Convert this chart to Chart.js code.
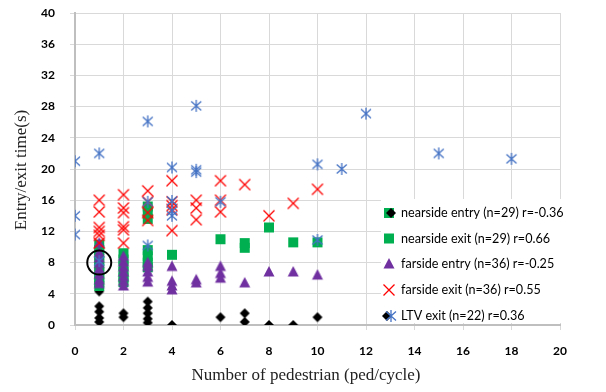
<!DOCTYPE html>
<html>
<head>
<meta charset="utf-8">
<script src="https://cdn.jsdelivr.net/npm/chart.js@4.4.0/dist/chart.umd.min.js"></script>
<style>
  html, body { margin: 0; padding: 0; background: #fff; }
</style>
</head>
<body>
<canvas id="myChart" width="606" height="392"></canvas>
<script>
// values
const nearEntryX = [1, 1, 1, 1, 1, 2, 2, 3, 3, 3, 3, 3, 4, 6, 7, 7, 8, 9, 10];
const nearEntryY = [4.3, 2.4, 1.7, 0.9, 0.4, 1.5, 1.0, 3.0, 2.2, 1.5, 0.8, 0.3, 0, 1.0, 1.5, 0.4, 0, 0, 1.0];

const nearExitX = [1, 1, 1, 1, 1, 1, 1, 1, 1, 2, 2, 2, 2, 2, 2, 3, 3, 3, 3, 3, 3, 3, 4, 6, 7, 7, 8, 9, 10];
const nearExitY = [10.3, 9.6, 8.9, 8.2, 7.5, 6.8, 6.1, 5.5, 5.0, 9.2, 8.4, 7.6, 6.8, 6.1, 5.5,
                   15.2, 14.4, 13.6, 9.6, 8.8, 8.0, 7.4, 9.0, 11.0, 10.5, 9.9, 12.5, 10.6, 10.6];

const farEntryX = [1, 1, 1, 1, 1, 1, 1, 1, 2, 2, 2, 2, 2, 2, 2, 3, 3, 3, 3, 3, 4, 4, 4, 4, 5, 5, 6, 6, 6, 7, 8, 9, 10];
const farEntryY = [10.5, 9.3, 8.6, 7.9, 7.2, 6.5, 5.8, 5.3, 8.8, 8.1, 7.4, 6.8, 6.2, 5.6, 5.0,
                   8.0, 7.5, 6.8, 6.1, 5.5, 7.5, 5.6, 5.0, 4.5, 5.8, 5.4, 7.5, 6.6, 6.0, 5.4, 6.8, 6.8, 6.4];

const farExitX = [1, 1, 1, 1, 1, 1, 2, 2, 2, 2, 2, 2, 3, 3, 3, 3, 4, 4, 4, 4, 4, 5, 5, 5, 6, 6, 6, 7, 8, 9, 10];
const farExitY = [16.0, 14.5, 12.5, 12.0, 11.5, 10.5, 16.7, 15.0, 14.4, 12.6, 12.2, 10.5,
                  17.2, 15.8, 14.4, 13.4, 18.5, 15.8, 15.3, 14.8, 12.1, 16.0, 15.0, 13.5,
                  18.5, 16.0, 14.5, 18.0, 14.0, 15.6, 17.4];

const ltvX = [0, 0, 0, 1, 1, 3, 3, 3, 4, 4, 4, 4, 5, 5, 5, 6, 10, 10, 11, 12, 15, 18];
const ltvY = [21.0, 14.0, 11.6, 22.0, 8.2, 26.1, 15.8, 10.2, 20.2, 15.9, 14.6, 14.0,
              28.1, 19.9, 19.6, 15.8, 20.6, 10.9, 20.0, 27.1, 22.0, 21.3];

const seriesNames = [
    'nearside entry (n=29) r=-0.36',
    'nearside exit (n=29) r=0.66',
    'farside entry (n=36) r=-0.25',
    'farside exit (n=36) r=0.55',
    'LTV exit (n=22) r=0.36'
];

const xTitle = 'Number of pedestrian (ped/cycle)';
const yTitle = 'Entry/exit time(s)';

function toPoints(xs, ys) {
    return xs.map((x, i) => ({ x: x, y: ys[i] }));
}

// draws one of the excel-like markers
function drawMarker(ctx, kind, x, y) {
    ctx.save();
    ctx.beginPath();
    if (kind === 'diamond') {
        ctx.fillStyle = '#000';
        ctx.moveTo(x, y - 5); ctx.lineTo(x + 5, y); ctx.lineTo(x, y + 5); ctx.lineTo(x - 5, y);
        ctx.closePath(); ctx.fill();
    } else if (kind === 'square') {
        ctx.fillStyle = '#00B050';
        ctx.fillRect(x - 5, y - 5, 10, 10);
    } else if (kind === 'triangle') {
        ctx.fillStyle = '#7030A0';
        ctx.moveTo(x, y - 6); ctx.lineTo(x + 5.5, y + 4.5); ctx.lineTo(x - 5.5, y + 4.5);
        ctx.closePath(); ctx.fill();
    } else if (kind === 'x') {
        ctx.strokeStyle = '#FF0000';
        ctx.lineWidth = 1.3;
        ctx.moveTo(x - 5.5, y - 5.5); ctx.lineTo(x + 5.5, y + 5.5);
        ctx.moveTo(x + 5.5, y - 5.5); ctx.lineTo(x - 5.5, y + 5.5);
        ctx.stroke();
    } else if (kind === 'star') {
        ctx.strokeStyle = '#4472C4';
        ctx.lineWidth = 1.3;
        ctx.moveTo(x - 5, y - 4.5); ctx.lineTo(x + 5, y + 4.5);
        ctx.moveTo(x + 5, y - 4.5); ctx.lineTo(x - 5, y + 4.5);
        ctx.moveTo(x, y - 6); ctx.lineTo(x, y + 6);
        ctx.stroke();
    }
    ctx.restore();
}

function makeIcon(kind) {
    const c = document.createElement('canvas');
    c.width = 16;
    c.height = 16;
    drawMarker(c.getContext('2d'), kind, 8, 8);
    return c;
}

// legend box inside the plot, lower right
const legendBox = {
    id: 'legendBox',
    afterDraw(chart) {
        const ctx = chart.ctx;
        ctx.save();
        ctx.fillStyle = '#fff';
        ctx.fillRect(381, 199, 225, 124);
        ctx.font = '12.6px Lato';
        ctx.fillStyle = '#000';
        ctx.textBaseline = 'middle';
        const ys = [213, 238.5, 264, 290, 316];
        drawMarker(ctx, 'square', 389, ys[0]);
        drawMarker(ctx, 'diamond', 391, ys[0]);
        drawMarker(ctx, 'square', 389, ys[1]);
        drawMarker(ctx, 'triangle', 389, ys[2]);
        drawMarker(ctx, 'x', 389, ys[3]);
        drawMarker(ctx, 'diamond', 387, ys[4]);
        drawMarker(ctx, 'star', 391, ys[4]);
        seriesNames.forEach((name, i) => {
            ctx.fillText(name, 401, ys[i]);
        });
        ctx.restore();
    }
};

// circle around the highlighted point and the axis titles
const extras = {
    id: 'extras',
    afterDatasetsDraw(chart) {
        const ctx = chart.ctx;
        const sx = chart.scales.x, sy = chart.scales.y;
        ctx.save();
        ctx.strokeStyle = '#000';
        ctx.lineWidth = 2;
        ctx.beginPath();
        ctx.arc(sx.getPixelForValue(1), sy.getPixelForValue(8.0), 12, 0, Math.PI * 2);
        ctx.stroke();
        ctx.restore();
    },
    afterDraw(chart) {
        const ctx = chart.ctx;
        ctx.save();
        ctx.fillStyle = '#222';
        ctx.font = '17px "Liberation Serif"';
        ctx.textAlign = 'center';
        ctx.textBaseline = 'middle';
        ctx.fillText(xTitle, 306, 376);
        ctx.translate(22, 170);
        ctx.rotate(-Math.PI / 2);
        ctx.fillText(yTitle, 0, 0);
        ctx.restore();
    }
};

const tickFont = { family: 'Lato', size: 12, weight: 'bold' };

const myChart = new Chart(document.getElementById('myChart').getContext('2d'), {
    type: 'scatter',
    data: {
        datasets: [
            { label: seriesNames[0], data: toPoints(nearEntryX, nearEntryY), pointStyle: makeIcon('diamond'), order: 4 },
            { label: seriesNames[1], data: toPoints(nearExitX, nearExitY), pointStyle: makeIcon('square'), order: 3 },
            { label: seriesNames[2], data: toPoints(farEntryX, farEntryY), pointStyle: makeIcon('triangle'), order: 2 },
            { label: seriesNames[3], data: toPoints(farExitX, farExitY), pointStyle: makeIcon('x'), order: 1 },
            { label: seriesNames[4], data: toPoints(ltvX, ltvY), pointStyle: makeIcon('star'), order: 0 }
        ]
    },
    options: {
        responsive: false,
        animation: false,
        layout: { padding: { top: 13, right: 46, left: 0, bottom: 0 } },
        plugins: {
            legend: { display: false },
            tooltip: { enabled: false }
        },
        scales: {
            x: {
                type: 'linear',
                min: 0,
                max: 20,
                afterFit: scale => { scale.height = 67; },
                ticks: { stepSize: 2, font: tickFont, color: '#000', padding: 14 },
                grid: { color: '#D9D9D9', tickLength: 5 },
                border: { color: '#BFBFBF', width: 2 }
            },
            y: {
                min: 0,
                max: 40,
                afterFit: scale => {
                    scale.width = 75;
                    scale.paddingTop = 0;
                    scale.paddingBottom = 0;
                },
                ticks: { stepSize: 4, font: tickFont, color: '#000', padding: 15 },
                grid: { color: '#D9D9D9', tickLength: 5 },
                border: { color: '#BFBFBF', width: 2 }
            }
        }
    },
    plugins: [legendBox, extras]
});
</script>
</body>
</html>
